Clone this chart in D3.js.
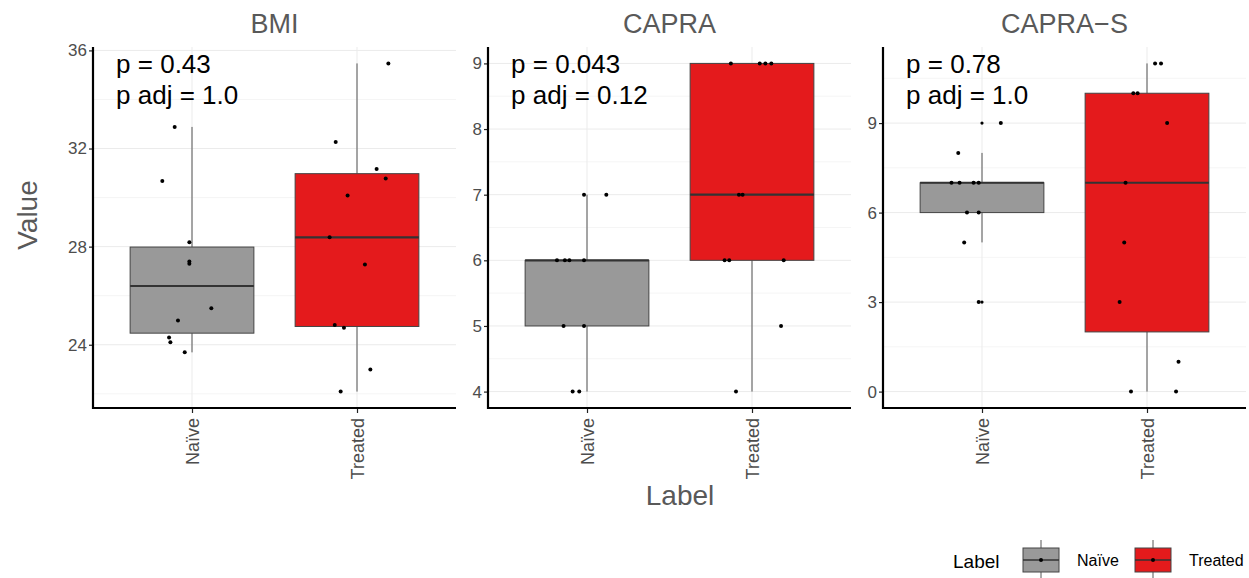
<!DOCTYPE html>
<html>
<head>
<meta charset="utf-8">
<script src="https://cdn.jsdelivr.net/npm/d3@7"></script>
<style>
  body { margin: 0; background: #fff; }
  svg { font-family: "Liberation Sans", Arial, sans-serif; }
</style>
</head>
<body>
<script>
// facet boxplots, Naive vs Treated

const groups = ["Naïve", "Treated"];
const metrics = ["BMI", "CAPRA", "CAPRA\u2212S"];
const pText = ["p = 0.43", "p = 0.043", "p = 0.78"];
const pAdjText = ["p adj = 1.0", "p adj = 0.12", "p adj = 1.0"];
const yTicks = [[24, 28, 32, 36], [4, 5, 6, 7, 8, 9], [0, 3, 6, 9]];

// values per metric, per group; jitter = horizontal offset in category units
const bmiNaive = [32.88, 30.68, 28.18, 27.39, 27.30, 25.49, 24.99, 24.30, 24.10, 23.69];
const bmiNaiveJit = [-0.105, -0.18, -0.016, -0.016, -0.016, 0.117, -0.085, -0.139, -0.131, -0.044];
const bmiTreated = [35.47, 32.27, 31.17, 30.78, 30.08, 28.38, 27.27, 24.80, 24.69, 22.99, 22.09];
const bmiTreatedJit = [0.19, -0.129, 0.119, 0.174, -0.057, -0.166, 0.048, -0.135, -0.079, 0.081, -0.099];

const capraNaive = [6, 6, 6, 6, 7, 7, 5, 5, 4, 4];
const capraNaiveJit = [-0.182, -0.134, -0.107, -0.018, -0.018, 0.117, -0.142, -0.018, -0.087, -0.047];
const capraTreated = [9, 9, 9, 9, 7, 7, 6, 6, 6, 5, 4];
const capraTreatedJit = [-0.128, 0.047, 0.081, 0.117, -0.079, -0.057, -0.166, -0.138, 0.192, 0.176, -0.097];

const capraSNaive = [9, 8, 7, 7, 7, 7, 6, 6, 5, 3];
const capraSNaiveJit = [0.114, -0.144, -0.185, -0.136, -0.051, -0.02, -0.091, -0.02, -0.108, -0.02];
const capraSTreated = [11, 11, 10, 10, 9, 7, 5, 3, 1, 0, 0];
const capraSTreatedJit = [0.049, 0.085, -0.083, -0.057, 0.122, -0.13, -0.138, -0.166, 0.191, -0.097, 0.176];

const series = [
  [[bmiNaive, bmiNaiveJit], [bmiTreated, bmiTreatedJit]],
  [[capraNaive, capraNaiveJit], [capraTreated, capraTreatedJit]],
  [[capraSNaive, capraSNaiveJit], [capraSTreated, capraSTreatedJit]]
];

const colors = { "Naïve": "#999999", "Treated": "#E41A1C" };

const width = 1249, height = 578;
const svg = d3.select("body").append("svg")
  .attr("width", width).attr("height", height);

const panelX = [93, 488, 883], panelW = 363;
const plotTop = 47, plotBottom = 408;
const grey = "#4d4d4d";

function boxStats(vals) {
  const s = vals.slice().sort(d3.ascending);
  const q1 = d3.quantile(s, 0.25), med = d3.quantile(s, 0.5), q3 = d3.quantile(s, 0.75);
  const iqr = q3 - q1;
  const inside = s.filter(v => v >= q1 - 1.5 * iqr && v <= q3 + 1.5 * iqr);
  return { q1, med, q3, lo: d3.min(inside), hi: d3.max(inside),
    out: s.filter(v => v < q1 - 1.5 * iqr || v > q3 + 1.5 * iqr) };
}

metrics.forEach((m, i) => {
  const x0 = panelX[i];
  const g = svg.append("g");
  const all = series[i][0][0].concat(series[i][1][0]);
  const [mn, mx] = d3.extent(all);
  const pad = (mx - mn) * 0.05;
  const y = d3.scaleLinear().domain([mn - pad, mx + pad]).range([plotBottom, plotTop]);
  const x = d3.scalePoint().domain(groups).range([x0, x0 + panelW]).padding(0.6);
  const step = x.step();

  // grid
  const ticks = yTicks[i];
  const minor = ticks.slice(0, -1).map((t, k) => (t + ticks[k + 1]) / 2);
  const d = ticks[1] - ticks[0];
  if (ticks[0] - d / 2 > y.domain()[0]) minor.unshift(ticks[0] - d / 2);
  if (ticks[ticks.length - 1] + d / 2 < y.domain()[1]) minor.push(ticks[ticks.length - 1] + d / 2);
  g.selectAll(".minor").data(minor).enter().append("line")
    .attr("x1", x0).attr("x2", x0 + panelW)
    .attr("y1", v => y(v)).attr("y2", v => y(v))
    .attr("stroke", "#f2f2f2").attr("stroke-width", 0.8);
  g.selectAll(".major").data(ticks).enter().append("line")
    .attr("x1", x0).attr("x2", x0 + panelW)
    .attr("y1", v => y(v)).attr("y2", v => y(v))
    .attr("stroke", "#ebebeb").attr("stroke-width", 1);
  g.selectAll(".vgrid").data(groups).enter().append("line")
    .attr("x1", c => x(c)).attr("x2", c => x(c))
    .attr("y1", plotTop).attr("y2", plotBottom)
    .attr("stroke", "#ebebeb").attr("stroke-width", 1);

  // boxes
  groups.forEach((c, j) => {
    const vals = series[i][j][0], jit = series[i][j][1];
    const st = boxStats(vals);
    const cx = x(c), bw = step * 0.75;
    g.append("line").attr("x1", cx).attr("x2", cx)
      .attr("y1", y(st.hi)).attr("y2", y(st.q3))
      .attr("stroke", "#444").attr("stroke-width", 0.9);
    g.append("line").attr("x1", cx).attr("x2", cx)
      .attr("y1", y(st.q1)).attr("y2", y(st.lo))
      .attr("stroke", "#444").attr("stroke-width", 0.9);
    g.append("rect")
      .attr("x", cx - bw / 2).attr("width", bw)
      .attr("y", y(st.q3)).attr("height", y(st.q1) - y(st.q3))
      .attr("fill", colors[c]).attr("stroke", "#444").attr("stroke-width", 1);
    g.append("line").attr("x1", cx - bw / 2).attr("x2", cx + bw / 2)
      .attr("y1", y(st.med)).attr("y2", y(st.med))
      .attr("stroke", "#333").attr("stroke-width", 2.2);
    g.selectAll(".out" + j).data(st.out).enter().append("circle")
      .attr("cx", cx).attr("cy", v => y(v)).attr("r", 1.6).attr("fill", "#000");
    g.selectAll(".pt" + j).data(vals).enter().append("circle")
      .attr("cx", (v, k) => cx + jit[k] * step)
      .attr("cy", v => y(v)).attr("r", 2).attr("fill", "#000");
  });

  // axes
  const ya = g.append("g").attr("transform", `translate(${x0},0)`)
    .call(d3.axisLeft(y).tickValues(ticks).tickFormat(d3.format("~g")).tickSize(4).tickPadding(2));
  ya.select(".domain").remove();
  ya.selectAll(".tick line").attr("stroke", "#222").attr("stroke-width", 1.2);
  ya.selectAll("text").attr("fill", grey).style("font-size", "17px");
  g.append("line").attr("x1", x0).attr("x2", x0).attr("y1", plotTop).attr("y2", plotBottom + 1)
    .attr("stroke", "#000").attr("stroke-width", 2.2);

  const xa = g.append("g").attr("transform", `translate(0,${plotBottom})`)
    .call(d3.axisBottom(x).tickSize(5).tickPadding(0));
  xa.select(".domain").remove();
  xa.selectAll(".tick line").attr("stroke", "#222").attr("stroke-width", 1.2);
  xa.selectAll("text")
    .attr("fill", grey).style("font-size", "18px")
    .attr("text-anchor", "end")
    .attr("transform", "rotate(-90)")
    .attr("x", -10).attr("y", 0).attr("dy", "0.35em");
  g.append("line").attr("x1", x0 - 1).attr("x2", x0 + panelW).attr("y1", plotBottom).attr("y2", plotBottom)
    .attr("stroke", "#000").attr("stroke-width", 2.2);

  // title and p values
  g.append("text").attr("x", x0 + panelW / 2).attr("y", 33)
    .attr("text-anchor", "middle").attr("fill", "#595959")
    .style("font-size", "27px").text(m);
  g.append("text").attr("x", x0 + step * 0.14).attr("y", 73)
    .attr("fill", "#000").style("font-size", "26px").text(pText[i]);
  g.append("text").attr("x", x0 + step * 0.14).attr("y", 104)
    .attr("fill", "#000").style("font-size", "26px").text(pAdjText[i]);
});

// axis titles
svg.append("text").attr("transform", "translate(37,215) rotate(-90)")
  .attr("text-anchor", "middle").attr("fill", "#595959")
  .style("font-size", "28px").text("Value");
svg.append("text").attr("x", 680).attr("y", 505)
  .attr("text-anchor", "middle").attr("fill", "#595959")
  .style("font-size", "28px").text("Label");

// legend
const leg = svg.append("g");
leg.append("text").attr("x", 953).attr("y", 568).attr("fill", "#000")
  .style("font-size", "19px").text("Label");
const keyX = [1023, 1135], labX = [1077, 1189];
groups.forEach((c, j) => {
  const kx = keyX[j], kw = 36, cx = kx + kw / 2;
  leg.append("line").attr("x1", cx).attr("x2", cx).attr("y1", 540).attr("y2", 578)
    .attr("stroke", "#444").attr("stroke-width", 0.9);
  leg.append("rect").attr("x", kx).attr("y", 548).attr("width", kw).attr("height", 24)
    .attr("fill", colors[c]).attr("stroke", "#444").attr("stroke-width", 1);
  leg.append("line").attr("x1", kx).attr("x2", kx + kw).attr("y1", 560).attr("y2", 560)
    .attr("stroke", "#333").attr("stroke-width", 1.6);
  leg.append("circle").attr("cx", cx).attr("cy", 560).attr("r", 2).attr("fill", "#000");
  leg.append("text").attr("x", labX[j]).attr("y", 566).attr("fill", "#000")
    .style("font-size", "16px").text(c);
});
</script>
</body>
</html>
